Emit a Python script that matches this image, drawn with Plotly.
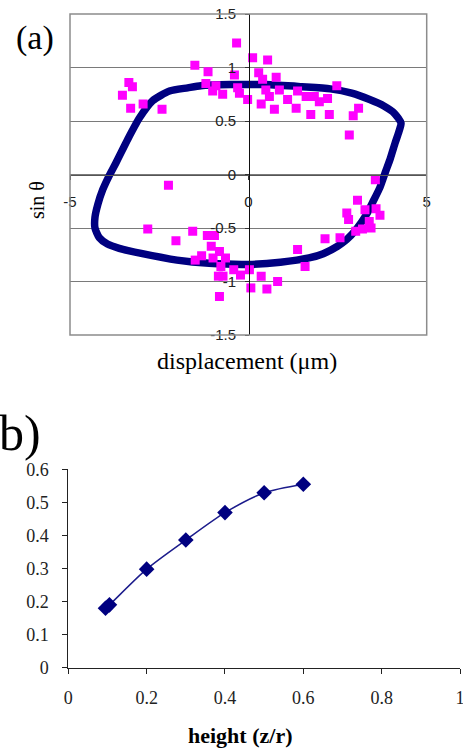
import plotly.graph_objects as go

W, H = 463, 749

# ---------------- Panel (a) data ----------------
loop_x = [-1.33, -0.5, 0.5, 1.5, 2.3, 2.9, 3.4, 3.8, 4.1, 4.28, 4.22, 4.12, 3.98, 3.85,
          3.69, 3.50, 3.30, 3.03, 2.75, 2.50, 2.10, 1.70, 0.90, 0.0, -1.1, -2.0, -2.97,
          -3.62, -3.95, -4.18, -4.30, -4.30, -4.22, -4.08, -3.90, -3.71, -3.38, -3.05,
          -2.68, -2.21, -1.70, -1.33]
loop_y = [0.83, 0.84, 0.84, 0.82, 0.80, 0.76, 0.70, 0.64, 0.57, 0.48, 0.40, 0.30, 0.15, 0.03,
          -0.12, -0.25, -0.38, -0.51, -0.61, -0.67, -0.74, -0.78, -0.82, -0.84, -0.83, -0.80, -0.74,
          -0.69, -0.65, -0.59, -0.50, -0.40, -0.28, -0.14, -0.01, 0.11, 0.33, 0.53,
          0.69, 0.78, 0.81, 0.83]

pink_x = [-0.33, 0.12, 0.54, -1.50, -1.13, -0.39, 0.29, 0.40, 0.78, -1.19, -0.91, -1.00, -0.72,
          -0.30, -0.25, -0.02, 0.49, 0.59, 0.36, 0.73, 0.87, 1.10, 1.34, 1.38, 1.62, 1.85, 1.99,
          2.22, 1.75, 2.27, 2.48, 3.09, 2.94, 2.83,
          -3.35, -3.25, -3.53, -3.30, -2.95, -2.42,
          -2.24, -2.82, -2.03, -1.56, -1.15, -0.95, -1.04, -0.81, -1.31, -1.49, -0.99, -0.64,
          -0.77, -0.84, -0.81, -0.71, -0.41, -0.22, 0.03, 0.07, 0.36, 0.52, 0.82,
          3.56, 3.06, 2.76, 2.81, 3.27, 3.58, 3.69, 3.39, 3.44, 3.20, 3.01, 2.57, 2.15, 1.38, 1.59]
pink_y = [1.23, 1.09, 1.07, 1.02, 0.96, 0.93, 0.95, 0.89, 0.91, 0.85, 0.83, 0.78, 0.75,
          0.81, 0.76, 0.70, 0.79, 0.73, 0.66, 0.61, 0.79, 0.70, 0.62, 0.78, 0.73, 0.73, 0.68,
          0.71, 0.56, 0.56, 0.83, 0.62, 0.55, 0.37,
          0.86, 0.82, 0.74, 0.62, 0.66, 0.61,
          -0.10, -0.51, -0.62, -0.53, -0.57, -0.57, -0.67, -0.72, -0.76, -0.80, -0.78, -0.78,
          -0.86, -0.95, -1.14, -0.95, -0.89, -0.94, -0.89, -1.06, -0.95, -1.07, -1.00,
          -0.05, -0.24, -0.36, -0.42, -0.33, -0.32, -0.38, -0.44, -0.50, -0.51, -0.53, -0.59, -0.60, -0.70, -0.86]

a_xticks = [-5, 0, 5]
a_xlabels = ["-5", "0", "5"]
a_yticks = [-1.5, -1, -0.5, 0, 0.5, 1, 1.5]
a_ylabels = ["-1.5", "-1", "-0.5", "0", "0.5", "1", "1.5"]

# ---------------- Panel (b) data ----------------
b_x = [0.095, 0.105, 0.2, 0.3, 0.4, 0.5, 0.6]
b_y = [0.180, 0.190, 0.298, 0.386, 0.469, 0.529, 0.555]
b_xticks = [0, 0.2, 0.4, 0.6, 0.8, 1]
b_xlabels = ["0", "0.2", "0.4", "0.6", "0.8", "1"]
b_yticks = [0, 0.1, 0.2, 0.3, 0.4, 0.5, 0.6]
b_ylabels = ["0", "0.1", "0.2", "0.3", "0.4", "0.5", "0.6"]

NAVY = "#000080"
PINK = "#ff00ff"

def px_x(p):
    return p / W

def px_y(p):
    return 1 - p / H

fig = go.Figure()

fig.add_trace(go.Scatter(x=loop_x, y=loop_y, mode="lines", line=dict(color=NAVY, width=7.5, shape="spline", smoothing=0.6),
                         xaxis="x", yaxis="y", showlegend=False, hoverinfo="skip"))
fig.add_trace(go.Scatter(x=pink_x, y=pink_y, mode="markers",
                         marker=dict(symbol="square", size=9, color=PINK, line=dict(width=0)),
                         xaxis="x", yaxis="y", showlegend=False))
# invisible companion trace so the label-only axis (y3) is laid out
fig.add_trace(go.Scatter(x=pink_x, y=pink_y, mode="markers", marker=dict(size=1, opacity=0),
                         xaxis="x", yaxis="y3", showlegend=False, hoverinfo="skip"))

fig.add_trace(go.Scatter(x=b_x, y=b_y, mode="lines+markers",
                         line=dict(color="#1c1c8c", width=1.5, shape="spline", smoothing=0.8),
                         marker=dict(symbol="diamond", size=12, color=NAVY),
                         xaxis="x2", yaxis="y2", showlegend=False, cliponaxis=False))

sans = "Liberation Sans"
serif = "Liberation Serif"

fig.update_layout(
    width=W, height=H,
    margin=dict(l=0, r=0, t=0, b=0, autoexpand=False),
    paper_bgcolor="white", plot_bgcolor="white",
    xaxis=dict(domain=[px_x(70), px_x(426.7)], range=[-5, 5], anchor="free", automargin=False,
               position=px_y(175), tickvals=a_xticks, ticktext=a_xlabels,
               showgrid=False, zeroline=False, showline=True, linecolor="#555555", linewidth=1,
               ticks="outside", ticklen=4, tickcolor="#333333",
               ticklabelstandoff=9, ticklabeloverflow="allow",
               tickfont=dict(family=sans, size=15, color="#222222")),
    yaxis=dict(domain=[px_y(335), px_y(14)], range=[-1.5, 1.5], anchor="free", automargin=False,
               position=px_x(249), tickvals=a_yticks, showticklabels=False,
               showgrid=True, gridcolor="#7a7a7a", gridwidth=1,
               zeroline=False, showline=True, linecolor="#111111", linewidth=1,
               ticks="outside", ticklen=4, tickcolor="#333333"),
    yaxis3=dict(domain=[px_y(335), px_y(14)], range=[-1.5, 1.5], anchor="free", overlaying="y",
                automargin=False, position=px_x(236), tickvals=a_yticks, ticktext=a_ylabels,
                showgrid=False, zeroline=False, showline=False, ticks="",
                ticklabeloverflow="allow",
                tickfont=dict(family=sans, size=15, color="#222222")),
    xaxis2=dict(domain=[px_x(68.3), px_x(460)], range=[0, 1], anchor="y2", automargin=False,
                tickvals=b_xticks, ticktext=b_xlabels,
                showgrid=False, zeroline=False, showline=True, linecolor="#222222", linewidth=1,
                ticks="outside", ticklen=5, tickcolor="#222222",
                ticklabelstandoff=9, ticklabeloverflow="allow",
                tickfont=dict(family=serif, size=18, color="#222222")),
    yaxis2=dict(domain=[px_y(667.7), px_y(469.3)], range=[0, 0.6], anchor="x2", automargin=False,
                tickvals=b_yticks, ticktext=b_ylabels,
                showgrid=False, zeroline=False, showline=True, linecolor="#222222", linewidth=1,
                ticks="outside", ticklen=5, tickcolor="#222222",
                ticklabelstandoff=10, ticklabeloverflow="allow",
                tickfont=dict(family=serif, size=18, color="#222222")),
    shapes=[dict(type="rect", xref="x domain", yref="y domain", x0=0, x1=1, y0=0, y1=1,
                 line=dict(color="#8c8c8c", width=1.5), layer="above")],
    annotations=[
        dict(text="(a)", x=px_x(35), y=px_y(38), xref="paper", yref="paper", showarrow=False,
             font=dict(family=serif, size=34, color="black"), xanchor="center", yanchor="middle"),
        dict(text="sin θ", x=px_x(37), y=px_y(200), xref="paper", yref="paper", showarrow=False,
             textangle=-90, font=dict(family=serif, size=20, color="black"), xanchor="center", yanchor="middle"),
        dict(text="displacement (μm)", x=px_x(247), y=px_y(361), xref="paper", yref="paper", showarrow=False,
             font=dict(family=serif, size=24, color="black"), xanchor="center", yanchor="middle"),
        dict(text="b)", x=px_x(-3), y=px_y(433), xref="paper", yref="paper", showarrow=False,
             font=dict(family=serif, size=50, color="black"), xanchor="left", yanchor="middle"),
        dict(text="<b>height (z/r)</b>", x=px_x(240), y=px_y(735), xref="paper", yref="paper", showarrow=False,
             font=dict(family=serif, size=22, color="black"), xanchor="center", yanchor="middle"),
    ],
)

fig.write_html("out.html", config={"displayModeBar": False},
               post_script="document.body.style.margin='0';document.body.style.padding='0';document.body.style.overflow='hidden';")
